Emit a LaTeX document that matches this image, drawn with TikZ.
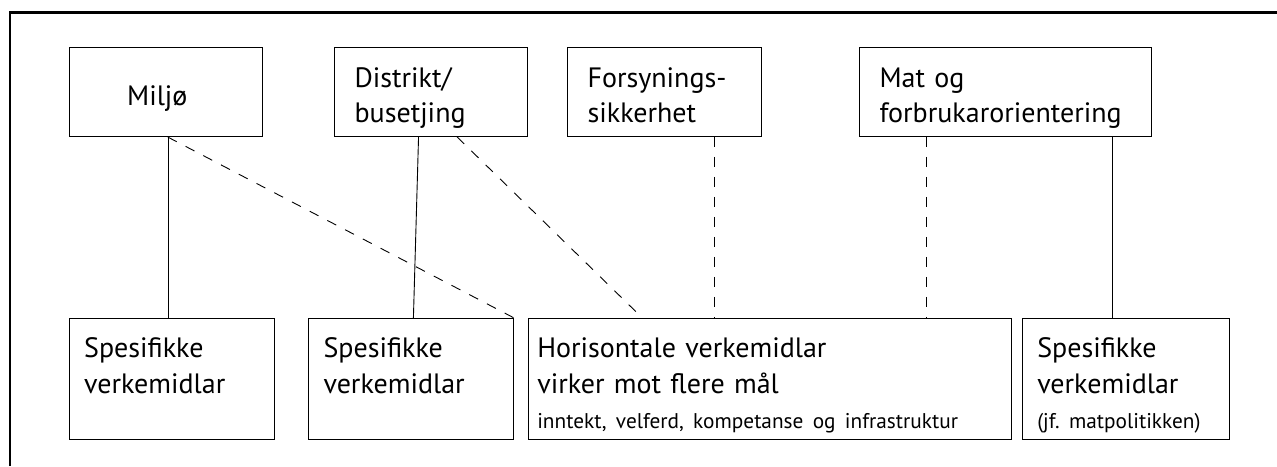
\documentclass[tikz,border=0pt]{standalone}
\usepackage{fontspec}
\setmainfont{PT Sans}[WordSpace=0.65]
\usepackage{tikz}
\hyphenpenalty=10000
\frenchspacing

\begin{document}
\begin{tikzpicture}[x=1pt,y=1pt,
  box/.style={draw,line width=1.1pt,anchor=north west,align=left,inner ysep=0pt,font=\fontsize{28}{35.5}\selectfont},
  goal/.style={box,text height=39.5pt,text depth=49pt,inner xsep=20pt},
  tool/.style={box,text height=38.7pt,text depth=82.3pt,inner xsep=15pt},
  link/.style={line width=0.9pt},
  weak/.style={link,dash pattern=on 10pt off 10pt}]
  \useasboundingbox (0,0) rectangle (1277,466);
  \draw[line width=2.2pt] (9.8,0) -- (9.8,453.5) -- (1277,453.5);
  \node [goal,inner xsep=58pt,text width=77.4pt,text height=57.7pt,text depth=31pt] (miljo) at (68.6,418.7) {Miljø};
  \node [goal,text width=153pt] (distrikt) at (334,418.7) {Distrikt/\\busetjing};
  \node [goal,text width=154pt] (forsyning) at (567,418.7) {Forsynings-\\sikkerhet};
  \node [goal,text width=252pt] (mat) at (859,418.7) {Mat og\\forbrukarorientering};
  \node [tool,text width=175pt] (spesA) at (68.6,147.7) {Spesifikke\\verkemidlar};
  \node [tool,text width=174.7pt] (spesB) at (308,147.7) {Spesifikke\\verkemidlar};
  \node [tool,inner xsep=9pt,text width=465.3pt] (horis) at (527.7,147.7) {Horisontale verkemidlar\\virker mot flere mål\\\fontsize{21.3}{25.5}\selectfont inntekt, velferd, kompetanse og infrastruktur};
  \node [tool,text width=177.3pt] (spesC) at (1021.7,147.7) {Spesifikke\\verkemidlar\\\fontsize{21.3}{25.5}\selectfont (jf. matpolitikken)};
  \draw[link] ([xshift=3pt]miljo.south) -- ([xshift=3pt]miljo.south |- spesA.north);
  \draw[weak] ([xshift=2pt]miljo.south) -- ([xshift=-13pt]horis.north west);
  \draw[link] ([xshift=-12.5pt]distrikt.south) -- ([xshift=2.5pt]spesB.north);
  \draw[weak] ([xshift=26pt]distrikt.south) -- ([xshift=115pt]horis.north west);
  \draw[weak] ([xshift=49.5pt]forsyning.south) -- ([xshift=49.5pt]forsyning.south |- horis.north);
  \draw[weak] ([xshift=-79pt]mat.south) -- ([xshift=-79pt]mat.south |- horis.north);
  \draw[link] ([xshift=107pt]mat.south) -- ([xshift=107pt]mat.south |- spesC.north);
\end{tikzpicture}
\end{document}
